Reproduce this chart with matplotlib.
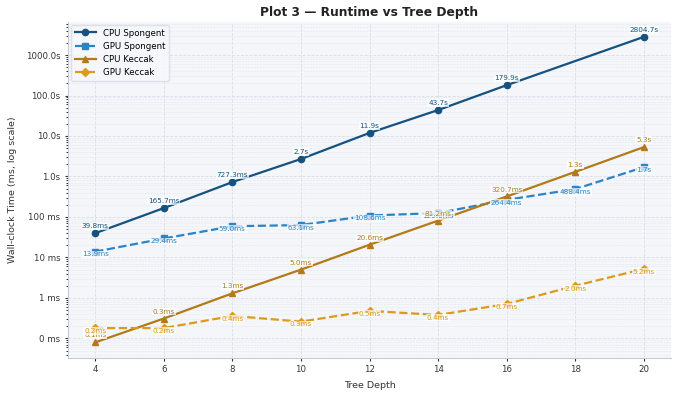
import matplotlib.pyplot as plt
from matplotlib.ticker import FuncFormatter, LogLocator
import numpy as np

depths = [4, 6, 8, 10, 12, 14, 16, 18, 20]

# runtimes in ms (None = not measured)
cpu_spongent = [39.8, 165.7, 727.3, 2700, 11900, 43700, 179900, None, 2804700]
gpu_spongent = [13.9, 29.4, 59.0, 63.1, 108.6, 125.0, 264.4, 488.4, 1700]
cpu_keccak = [0.08, 0.31, 1.3, 5.0, 20.6, 81.2, 320.7, 1300, 5300]
gpu_keccak = [0.18, 0.18, 0.36, 0.26, 0.48, 0.38, 0.71, 2.0, 5.2]

series = [
    ("CPU Spongent", cpu_spongent, "#15527f", "o", "-"),
    ("GPU Spongent", gpu_spongent, "#2a84c6", "s", "--"),
    ("CPU Keccak", cpu_keccak, "#b37a17", "^", "-"),
    ("GPU Keccak", gpu_keccak, "#dc9a18", "D", "--"),
]


def fmt_label(v):
    if v < 1000:
        return f"{v:.1f}ms"
    return f"{v / 1000:.1f}s"


def fmt_tick(v, pos):
    if v < 1000:
        return f"{v:.0f} ms"
    return f"{v / 1000:.1f}s"


fig, ax = plt.subplots(figsize=(6.78, 3.93), dpi=100)
ax.set_facecolor("#f4f6fa")

for name, vals, color, marker, ls in series:
    xs = [d for d, v in zip(depths, vals) if v is not None]
    ys = [v for v in vals if v is not None]
    ax.plot(xs, ys, color=color, marker=marker, linestyle=ls, lw=1.6,
            markersize=4.5, label=name, zorder=3)
    dy = 5 if ls == "-" else -2
    for x, y in zip(xs, ys):
        ax.annotate(fmt_label(y), (x, y), textcoords="offset points",
                    xytext=(0, dy), ha="center", va="center", fontsize=5.2,
                    color=color, zorder=5,
                    bbox=dict(boxstyle="square,pad=0.1", fc="white",
                              ec="none", alpha=0.7))

ax.set_yscale("log")
ax.yaxis.set_major_locator(LogLocator(base=10, numticks=20))
ax.yaxis.set_major_formatter(FuncFormatter(fmt_tick))
ax.set_xticks(depths)
ax.tick_params(labelsize=6.2, colors="#333333", length=2)
ax.tick_params(which="minor", length=1.5)

ax.grid(True, which="major", ls="--", lw=0.6, color="#d5dbe5", alpha=0.9)
ax.grid(True, which="minor", ls="--", lw=0.4, color="#e1e6ee", alpha=0.9)
ax.set_axisbelow(True)

for side in ["top", "right"]:
    ax.spines[side].set_visible(False)
for side in ["left", "bottom"]:
    ax.spines[side].set_color("#c3cbd8")

ax.set_xlabel("Tree Depth", fontsize=6.8, color="#333333", labelpad=5)
ax.set_ylabel("Wall-clock Time (ms, log scale)", fontsize=6.8,
              color="#333333", labelpad=6)
ax.set_title("Plot 3 — Runtime vs Tree Depth", fontsize=8.8, fontweight="bold",
             color="#222222", pad=4)

ax.legend(loc="upper left", fontsize=6.2, frameon=True, facecolor="#f7f8fb",
          edgecolor="#d5dbe5", handlelength=2.5, borderaxespad=0.4)

fig.subplots_adjust(left=0.1, right=0.99, top=0.945, bottom=0.09)
fig.savefig("out.png", dpi=100)
